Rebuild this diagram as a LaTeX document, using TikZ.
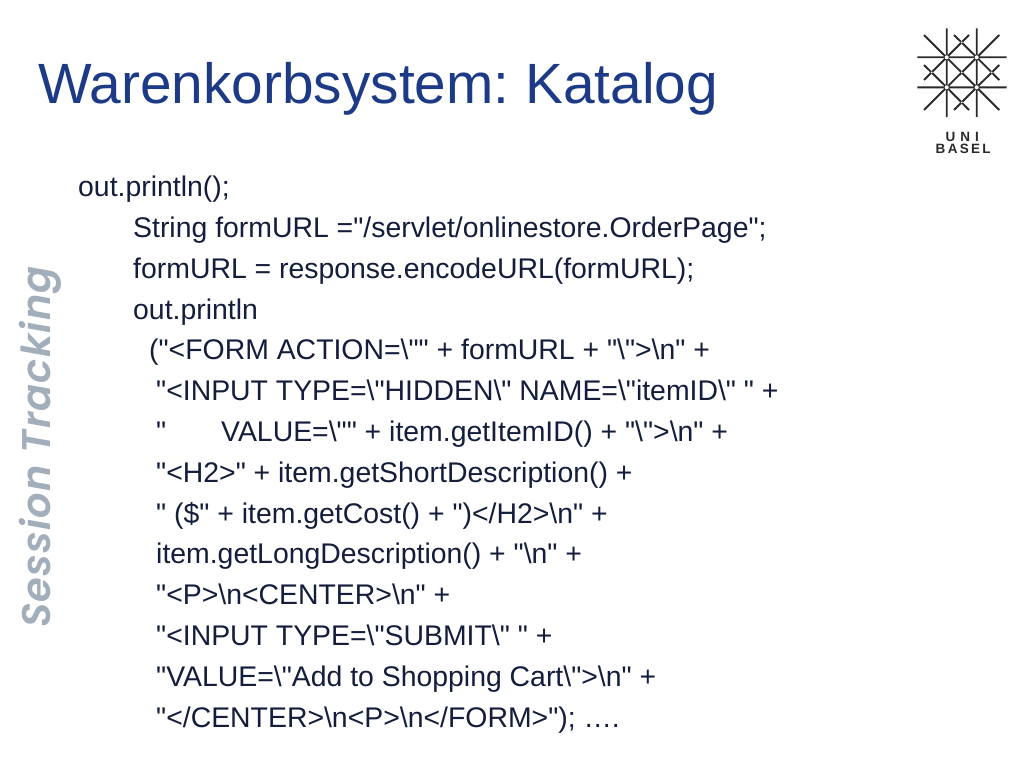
\documentclass[tikz,border=0pt]{standalone}
\usepackage{fontspec}
\newfontfamily\bodyfont{Liberation Sans}
\newfontfamily\sidefont[LetterSpace=3]{Poppins SemiBold Italic}
\definecolor{titleblue}{HTML}{1C3A85}
\definecolor{bodyink}{HTML}{141E3C}
\definecolor{sidegray}{HTML}{A3AEBB}
\definecolor{logoink}{HTML}{2A2A2A}
\tikzset{
  codeline/.style={anchor=base west,inner sep=0pt,text=bodyink,font=\bodyfont\frenchspacing\fontsize{28.4}{30}\selectfont},
  logoline/.style={draw=logoink,line width=1.9pt},
  logodot/.style={fill=white,draw=none,circle,inner sep=0pt,minimum size=4pt},
  logogap/.style={fill=white,draw=none,circle,inner sep=0pt,minimum size=2pt},
  logotext/.style={anchor=base,inner sep=0pt,text=logoink,font=\bodyfont\bfseries\fontsize{13.5}{15}\selectfont}
}
\begin{document}
\begin{tikzpicture}[x=1pt,y=-1pt]
\useasboundingbox (0,0) rectangle (1024,768);
\fill[white] (0,0) rectangle (1024,768);
\node[anchor=base west,inner sep=0pt,text=titleblue,font=\bodyfont\frenchspacing\fontsize{56.8}{60}\selectfont] (title) at (38,103.4) {Warenkorbsystem: Katalog};
\begin{scope}[yshift=-0.7pt]
\node[codeline] (l1) at (78,196) {out.println();};
\node[codeline] (l2) at (133,236.8) {String formURL ="/servlet/onlinestore.OrderPage";};
\node[codeline] (l3) at (133,277.6) {formURL = response.encodeURL(formURL);};
\node[codeline] (l4) at (133,318.4) {out.println};
\node[codeline] (l5) at (149,359.2) {("<FORM ACTION=\symbol{92}"" + formURL + "\symbol{92}">\symbol{92}n" +};
\node[codeline] (l6) at (156,400) {"<INPUT TYPE=\symbol{92}"HIDDEN\symbol{92}" NAME=\symbol{92}"itemID\symbol{92}" " +};
\node[codeline] (l7a) at (156,440.8) {"};
\node[codeline] (l7) at (221,440.8) {VALUE=\symbol{92}"" + item.getItemID() + "\symbol{92}">\symbol{92}n" +};
\node[codeline] (l8) at (156,481.6) {"<H2>" + item.getShortDescription() +};
\node[codeline] (l9) at (156,522.4) {" (\$" + item.getCost() + ")</H2>\symbol{92}n" +};
\node[codeline] (l10) at (156,563.2) {item.getLongDescription() + "\symbol{92}n" +};
\node[codeline] (l11) at (156,604) {"<P>\symbol{92}n<CENTER>\symbol{92}n" +};
\node[codeline] (l12) at (156,644.8) {"<INPUT TYPE=\symbol{92}"SUBMIT\symbol{92}" " +};
\node[codeline] (l13) at (156,685.6) {"VALUE=\symbol{92}"Add to Shopping Cart\symbol{92}">\symbol{92}n" +};
\node[codeline] (l14) at (156,726.4) {"</CENTER>\symbol{92}n<P>\symbol{92}n</FORM>"); ….};
\end{scope}
\node[rotate=90,anchor=base,inner sep=0pt,text=sidegray,font=\sidefont\fontsize{40}{46}\selectfont] (side) at (50,447) {Session Tracking};
% logo
\draw[logoline] (946.7,28.3) -- (946.7,117) (976.7,28.3) -- (976.7,117)
  (917.3,57.3) -- (1006.7,57.3) (917.3,87.3) -- (1006.7,87.3)
  (924,35) -- (999.3,110) (999.3,35) -- (924,110)
  (946.7,57.3) -- (969,35) (976.7,57.3) -- (954,35)
  (946.7,87.3) -- (969,110) (976.7,87.3) -- (954,110)
  (946.7,57.3) -- (924,80) (946.7,87.3) -- (924,65)
  (976.7,57.3) -- (999.3,80) (976.7,87.3) -- (999.3,65);
\foreach \p in {(946.7,57.3),(976.7,57.3),(946.7,87.3),(976.7,87.3)} \node[logodot] at \p {};
\foreach \p in {(961.7,42.3),(931.7,72.3),(991.7,72.3),(961.7,102.3),(961.7,72.3)} \node[logogap] at \p {};
\node[logotext] (uni) at (962.3,141) {U\kern5pt N\kern5pt I};
\node[logotext] (basel) at (963.2,153.5) {B\kern2.3pt A\kern2.3pt S\kern2.3pt E\kern2.3pt L};
\end{tikzpicture}
\end{document}
